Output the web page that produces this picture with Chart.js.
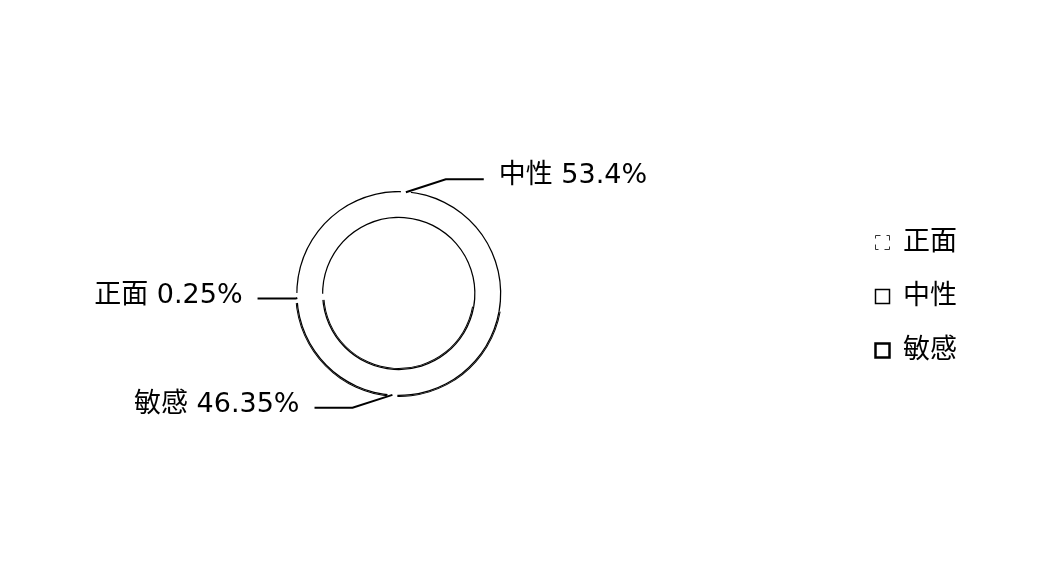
<!DOCTYPE html>
<html>
<head>
<meta charset="utf-8">
<script src="https://cdn.jsdelivr.net/npm/chart.js@4.4.0/dist/chart.umd.min.js"></script>
<style>
  html, body { margin: 0; padding: 0; background: #ffffff; overflow: hidden; width: 1050px; height: 587px; }
  canvas { display: block; margin-left: -51px; }
</style>
</head>
<body>
<canvas id="c" width="1101" height="587"></canvas>
<script>
// ---- data ----
const categories = ['正面', '中性', '敏感'];
const shares = [0.25, 53.4, 46.35];
const valueLabels = ['0.25%', '53.4%', '46.35%'];

// ---- styling ----
const FONT = '"DejaVu Sans", "Noto Sans CJK SC", sans-serif';
const T = 'rgba(0,0,0,0)';
const K = '#000000';

function ring(colors, weight) {
  return { data: shares, backgroundColor: colors, borderWidth: 0, weight: weight, hoverOffset: 0 };
}

// outline look: thin rings for the slice edges, thicker for 敏感
const datasets = [
  ring([T, T, K], 1),     // outer edge (extra thickness)
  ring([T, K, K], 1.3),   // outer edge
  ring([T, T, T], 25.4),  // body of the ring (white)
  ring([T, K, K], 1.3),   // inner edge
  ring([T, T, K], 1)      // inner edge (extra thickness)
];

const sliceLabels = {
  id: 'sliceLabels',
  afterDatasetsDraw(chart) {
    const ctx = chart.ctx;
    const meta = chart.getDatasetMeta(1);
    const innerMeta = chart.getDatasetMeta(3);
    ctx.save();
    meta.data.forEach((arc, i) => {
      const p = arc.getProps(['x', 'y', 'startAngle', 'endAngle', 'outerRadius'], true);
      const mid = (p.startAngle + p.endAngle) / 2;
      const c = Math.cos(mid), s = Math.sin(mid);
      const R = p.outerRadius;
      // small gap in the outline where the leader line attaches
      ctx.strokeStyle = '#ffffff';
      ctx.lineWidth = 5;
      const hg = 5 / R;
      ctx.beginPath();
      ctx.arc(p.x, p.y, R, mid - hg, mid + hg);
      ctx.stroke();
      if (shares[i] < 1) {
        const ri = innerMeta.data[i].getProps(['innerRadius'], true).innerRadius;
        ctx.beginPath();
        ctx.arc(p.x, p.y, ri, mid - 3 / ri, mid + 3 / ri);
        ctx.stroke();
      }
      // leader line
      const sign = c >= 0 ? 1 : -1;
      const x0 = p.x + (R - 1) * c, y0 = p.y + (R - 1) * s;
      const x1 = x0 + sign * 40 * Math.abs(s), y1 = y0 + s * 13;
      const x2 = x1 + sign * 38;
      ctx.strokeStyle = '#000000';
      ctx.lineWidth = 2;
      ctx.beginPath();
      ctx.moveTo(x0, y0);
      ctx.lineTo(x1, y1);
      ctx.lineTo(x2, y1);
      ctx.stroke();
      // text
      ctx.fillStyle = '#000000';
      ctx.font = '27px ' + FONT;
      ctx.textBaseline = 'middle';
      ctx.textAlign = sign > 0 ? 'left' : 'right';
      ctx.fillText(categories[i] + ' ' + valueLabels[i], x2 + sign * 15, y1 - 3);
    });
    ctx.restore();
  }
};

new Chart(document.getElementById('c'), {
  type: 'doughnut',
  data: { labels: categories, datasets: datasets },
  options: {
    responsive: false,
    animation: false,
    events: [],
    radius: 103.5,
    cutout: '72%',
    rotation: 267,
    layout: { padding: { left: 0, right: 83, top: 0, bottom: 0 } },
    plugins: {
      tooltip: { enabled: false },
      legend: {
        position: 'right',
        title: { display: true, text: '', padding: 0, font: { size: 5 } },
        labels: {
          boxWidth: 14,
          boxHeight: 14,
          padding: 27,
          color: '#000000',
          font: { family: FONT, size: 27 },
          generateLabels() {
            const widths = [1, 1.5, 2.5];
            return categories.map((t, i) => ({
              text: t,
              fillStyle: '#ffffff',
              strokeStyle: i === 0 ? '#333333' : '#000000',
              lineWidth: widths[i],
              lineDash: i === 0 ? [8, 6] : [],
              lineDashOffset: i === 0 ? 3 : 0,
              hidden: false,
              index: i,
              datasetIndex: 0,
              fontColor: '#000000'
            }));
          }
        }
      }
    }
  },
  plugins: [sliceLabels]
});
</script>
</body>
</html>
